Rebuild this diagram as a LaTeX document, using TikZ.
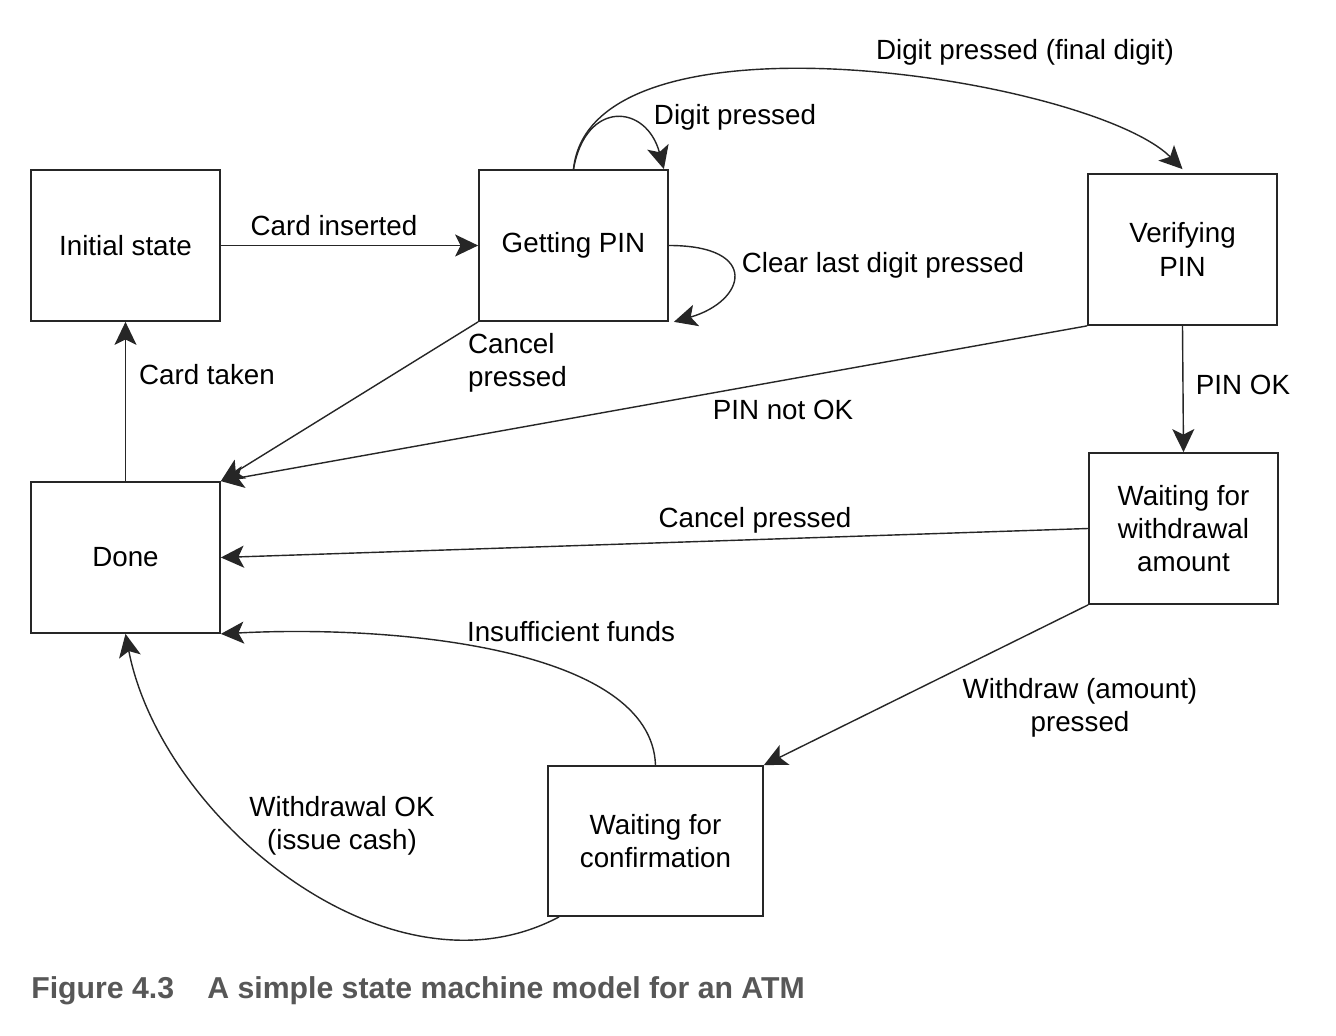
\documentclass[tikz,border=0pt]{standalone}
\usepackage{fontspec}
\setmainfont{Liberation Sans}
\usetikzlibrary{arrows.meta}

\begin{document}
\begin{tikzpicture}[
  font=\fontsize{15.8}{19}\selectfont,
  >={Stealth[length=4.6mm,width=4.4mm,inset=1.1mm]},
  statebox/.style={rectangle, draw=black!85, line width=1pt, align=center,
                   minimum width=3.78cm, minimum height=3.02cm, inner sep=2pt},
  trans/.style={->, draw=black!85, line width=0.8pt},
  lbl/.style={inner sep=1pt, align=center},
]

% --- fixed bounding box (white background) ---
\useasboundingbox (0,0) rectangle (26.72,20.72);
\fill[white] (0,0) rectangle (26.72,20.72);

% ============================ STATES ================================
\node[statebox] (init)    at (2.51,15.81)  {Initial state};
\node[statebox] (getpin)  at (11.47,15.81) {Getting PIN};
\node[statebox] (verify)  at (23.65,15.73) {Verifying\\PIN};
\node[statebox] (done)    at (2.51,9.57)   {Done};
\node[statebox] (waitamt) at (23.67,10.15) {Waiting for\\withdrawal\\amount};
\node[statebox, minimum width=4.30cm, minimum height=3.0cm] (waitconf)
  at (13.11,3.90) {Waiting for\\confirmation};

% ========================== TRANSITIONS =============================
\draw[trans] (init.east) -- (getpin.west);
\draw[trans] (getpin.north)
  to[out=80, in=105, out distance=1.42cm, in distance=1.35cm]
  ([xshift=-0.1cm]getpin.north east);
\draw[trans] (getpin.east)
  to[out=0, in=16, out distance=1.84cm, in distance=1.5cm]
  ([xshift=0.1cm]getpin.south east);
\draw[trans] (getpin.north)
  to[out=84, in=135, out distance=3.42cm, in distance=2.56cm]
  ([yshift=0.08cm]verify.north);
\draw[trans] (getpin.south west) -- (done.north east);
\draw[trans] (verify.south west) -- (done.north east);
\draw[trans] (verify.south) -- (waitamt.north);
\draw[trans] (waitamt.west) -- (done.east);
\draw[trans] (waitamt.south west) -- (waitconf.north east);
\draw[trans] (waitconf.north)
  to[out=92, in=3, out distance=2.32cm, in distance=3.56cm]
  (done.south east);
\draw[trans] ([xshift=0.24cm]waitconf.south west)
  to[out=208, in=-79, out distance=3.84cm, in distance=3.77cm]
  (done.south);
\draw[trans] (done.north) -- (init.south);

% ============================ LABELS ================================
\node[lbl] (lcard)   at (6.68,16.20)  {Card inserted};
\node[lbl] (ldigit)  at (14.70,18.38) {Digit pressed};
\node[lbl] (lclear)  at (17.66,15.42) {Clear last digit pressed};
\node[lbl] (lfinal)  at (20.50,19.68) {Digit pressed (final digit)};
\node[lbl, align=left, anchor=west] (lcancel) at (9.32,13.46)
  {Cancel\\pressed};
\node[lbl] (ltaken)  at (4.14,13.22)  {Card taken};
\node[lbl] (lnotok)  at (15.66,12.52) {PIN not OK};
\node[lbl] (lpinok)  at (24.86,13.02) {PIN OK};
\node[lbl] (lcancel2) at (15.10,10.32) {Cancel pressed};
\node[lbl] (lfunds)  at (11.42,8.08)  {Insufficient funds};
\node[lbl] (lwdraw)  at (21.60,6.56)  {Withdraw (amount)\\pressed};
\node[lbl] (lwok)    at (6.84,4.20)   {Withdrawal OK\\(issue cash)};

% --- caption ---
\node[anchor=base west, inner sep=0pt, text=black!66,
      font=\fontsize{17.2}{20}\selectfont\bfseries] (caption)
  at (0.62,0.74) {Figure 4.3\hspace{1.1em}A simple state machine model for an ATM};

\end{tikzpicture}
\end{document}
